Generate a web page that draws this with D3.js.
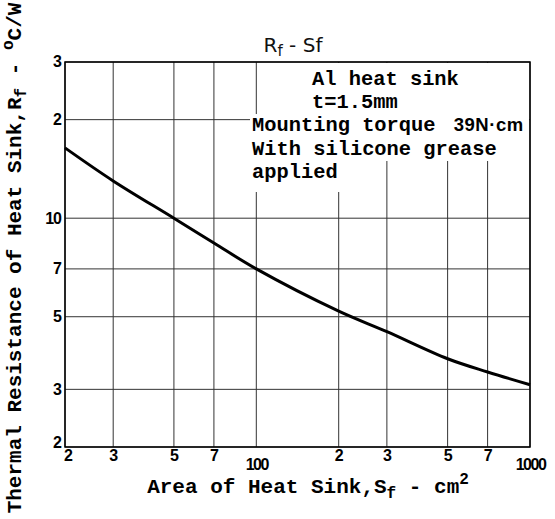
<!DOCTYPE html>
<html>
<head>
<meta charset="utf-8">
<script src="https://cdn.jsdelivr.net/npm/d3@7"></script>
<style>
  body { margin: 0; background: #fff; }
  svg { display: block; }
</style>
</head>
<body>
<svg id="chart" width="555" height="519"></svg>
<script>
// data (area cm2 -> Rf degC/W)
const area = [20, 30, 50, 70, 100, 200, 300, 500, 700, 1000];
const rf = [16.4, 13.0, 10, 8.4, 7.0, 5.2, 4.5, 3.72, 3.39, 3.1];

const xTicks = [20, 30, 50, 70, 100, 200, 300, 500, 700, 1000];
const xTickLabels = ["2", "3", "5", "7", "100", "2", "3", "5", "7", "1000"];
const yTicks = [2, 3, 5, 7, 10, 20, 30];
const yTickLabels = ["2", "3", "5", "7", "10", "2", "3"];

const notes = ["Al heat sink", "t=1.5mm", "Mounting torque ", "With silicone grease", "applied"];

const svg = d3.select("#chart");
const mono = "'Liberation Mono', 'DejaVu Sans Mono', monospace";
const sans = "'Liberation Sans', Arial, sans-serif";

const x = d3.scaleLog().domain([20, 1000]).range([65, 530]);
const y = d3.scaleLog().domain([2, 30]).range([447, 62]);

// grid
const grid = svg.append("g").attr("stroke", "#333").attr("stroke-width", 1);
grid.selectAll("line.v").data(xTicks).enter().append("line")
  .attr("x1", d => x(d)).attr("x2", d => x(d))
  .attr("y1", y(30)).attr("y2", y(2));
grid.selectAll("line.h").data(yTicks).enter().append("line")
  .attr("x1", x(20)).attr("x2", x(1000))
  .attr("y1", d => y(d)).attr("y2", d => y(d));

// curve
const line = d3.line().x((d, i) => x(area[i])).y(d => y(d)).curve(d3.curveCatmullRom);
svg.append("path").datum(rf)
  .attr("d", line)
  .attr("fill", "none").attr("stroke", "#000").attr("stroke-width", 3);

// notes with white background
const noteG = svg.append("g");
const lineX = [312, 312, 252, 252, 252];
const lineY = [85, 108, 131, 155, 178];
const bg1 = noteG.append("rect").attr("fill", "#fff");
const bg2 = noteG.append("rect").attr("fill", "#fff");
const bg3 = noteG.append("rect").attr("fill", "#fff");
const noteText = noteG.selectAll("text").data(notes).enter().append("text")
  .attr("x", (d, i) => lineX[i]).attr("y", (d, i) => lineY[i])
  .attr("font-family", mono).attr("font-weight", "bold").attr("font-size", 20.4)
  .attr("xml:space", "preserve")
  .text(d => d);
// torque value in a smaller sans face
d3.select(noteText.nodes()[2]).append("tspan")
  .attr("dx", 6)
  .attr("font-family", sans).attr("font-size", 18.5).attr("letter-spacing", 0.5)
  .text("39N\u00b7cm");
const bb = noteText.nodes().map(n => n.getBBox());
const right = x(1000) - 1;
bg1.attr("x", bb[0].x - 12).attr("y", y(30) + 1)
  .attr("width", right - bb[0].x + 12).attr("height", bb[1].y + bb[1].height - y(30) - 1);
bg2.attr("x", bb[2].x - 2).attr("y", bb[1].y + bb[1].height)
  .attr("width", right - bb[2].x + 2).attr("height", bb[3].y + bb[3].height - bb[1].y - bb[1].height);
bg3.attr("x", bb[4].x - 2).attr("y", bb[4].y)
  .attr("width", bb[4].width + 6).attr("height", bb[4].height + 8);

// frame
svg.append("rect")
  .attr("x", x(20)).attr("y", y(30))
  .attr("width", x(1000) - x(20)).attr("height", y(2) - y(30))
  .attr("fill", "none").attr("stroke", "#000").attr("stroke-width", 1.5);

// axes
const xAxis = svg.append("g").attr("transform", `translate(0,${y(2)})`)
  .call(d3.axisBottom(x).tickValues(xTicks).tickSize(0).tickPadding(0)
    .tickFormat((d, i) => xTickLabels[i]));
xAxis.select(".domain").remove();
xAxis.selectAll("text")
  .attr("font-family", sans)
  .attr("font-weight", "bold").attr("font-size", 16).attr("fill", "#000")
  .attr("letter-spacing", (d, i) => xTickLabels[i].length > 1 ? -1.5 : 0)
  .attr("dy", (d, i) => xTickLabels[i].length > 1 ? 23 : 14)
  .attr("dx", (d, i) => i === 0 ? 3 : 0);

const yAxis = svg.append("g").attr("transform", `translate(${x(20)},0)`)
  .call(d3.axisLeft(y).tickValues(yTicks).tickSize(0).tickPadding(4)
    .tickFormat((d, i) => yTickLabels[i]));
yAxis.select(".domain").remove();
yAxis.selectAll("text")
  .attr("font-family", sans)
  .attr("font-weight", "bold").attr("font-size", 16).attr("fill", "#000")
  .attr("letter-spacing", -1)
  .attr("dy", (d, i) => i === 0 ? "0" : "0.3em");

// title
const title = svg.append("text")
  .attr("x", 293).attr("y", 52).attr("text-anchor", "middle")
  .attr("font-family", "'DejaVu Sans', sans-serif").attr("font-size", 20)
  .attr("fill", "#111");
title.append("tspan").text("R");
title.append("tspan").attr("font-size", 15).attr("dy", 4).text("f");
title.append("tspan").attr("dy", -4).text(" - Sf");

// x axis title
const xt = svg.append("text")
  .attr("x", 308).attr("y", 493).attr("text-anchor", "middle")
  .attr("font-family", mono).attr("font-weight", "bold").attr("font-size", 21);
xt.append("tspan").text("Area of Heat Sink,S");
xt.append("tspan").attr("font-size", 16).attr("dy", 5).text("f");
xt.append("tspan").attr("dy", -5).text(" - cm");
xt.append("tspan").attr("font-size", 16).attr("dy", -9).text("2");

// y axis title
const yt = svg.append("text")
  .attr("transform", "translate(21,258) rotate(-90)").attr("text-anchor", "middle")
  .attr("font-family", mono).attr("font-weight", "bold").attr("font-size", 21);
yt.append("tspan").text("Thermal Resistance of Heat Sink,R");
yt.append("tspan").attr("font-size", 16).attr("dy", 5).text("f");
yt.append("tspan").attr("dy", -5).text(" - ");
yt.append("tspan").attr("font-size", 16).attr("dy", -8).text("o");
yt.append("tspan").attr("dy", 8).text("C/W");
</script>
</body>
</html>
